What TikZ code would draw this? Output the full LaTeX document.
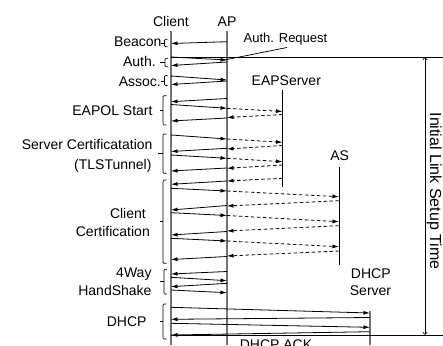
\documentclass[tikz,border=0pt]{standalone}
\usepackage{fontspec}
\setmainfont{Liberation Sans}
\usetikzlibrary{arrows.meta}
\tikzset{
  lbl/.style={inner sep=0pt, font=\fontsize{14}{16}\selectfont},
  life/.style={draw=black!55, line width=1.3pt},
  srvline/.style={draw=black, line width=0.8pt},
  msg/.style={draw=black, line width=0.8pt, -{Latex[length=6.5pt,width=4pt]}},
  dmsg/.style={msg, dash pattern=on 3.5pt off 2.5pt},
  brc/.style={draw=black, line width=0.7pt, rounded corners=1pt},
  bound/.style={draw=black, line width=0.8pt},
}
\newcommand\seqmsg[5]{\draw[#5] (#1,#2) -- (#3,#4);}
% #1 vertical x, #2 top, #3 bottom, #4 mid, #5 right tick end, #6 left tick end
\newcommand\seqbrace[6]{\draw[brc] (#5,#2) -- (#1,#2) -- (#1,#3) -- (#5,#3); \draw[brc] (#1,#4) -- (#6,#4);}
\def\xC{171}
\def\xA{227}
\def\xE{282.5}
\def\xS{339}
\def\xD{370}
\begin{document}
\begin{tikzpicture}[x=1pt,y=-1pt]
\useasboundingbox (0,0) rectangle (443,345);
\clip (0,0) rectangle (443,345);
% headers
\node[lbl, anchor=base] (hc) at (171,26.5) {Client};
\node[lbl, anchor=base] (ha) at (227,26.5) {AP};
\node[lbl, anchor=base] (he) at (286.3,85) {EAPServer};
\node[lbl, anchor=base] (hs) at (339.7,160) {AS};
\node[lbl, anchor=base] (hd1) at (370.8,278.3) {DHCP};
\node[lbl, anchor=base] (hd2) at (370.5,295) {Server};
% lifelines
\coordinate (cT) at (\xC,31); \coordinate (cB) at (\xC,345);
\coordinate (aT) at (\xA,31); \coordinate (aB) at (\xA,345);
\coordinate (eT) at (\xE,90); \coordinate (eB) at (\xE,187);
\coordinate (sT) at (\xS,166.5); \coordinate (sB) at (\xS,265);
\coordinate (dT) at (\xD,310.5); \coordinate (dB) at (\xD,345);
\draw[life] (cT) -- (cB);
\draw[life] (aT) -- (aB);
\draw[srvline] (eT) -- (eB);
\draw[srvline] (sT) -- (sB);
\draw[life] (dT) -- (dB);
% boundary lines and time arrow
\coordinate (t1) at (\xC,57); \coordinate (t2) at (443,57);
\coordinate (b1) at (\xC,335); \coordinate (b2) at (443,335);
\draw[bound] (t1) -- (t2);
\draw[bound] (b1) -- (b2);
\coordinate (v1) at (425,57); \coordinate (v2) at (425,335);
\draw[line width=0.6pt, {Straight Barb[length=2.5pt,width=4.5pt]}-{Straight Barb[length=2.5pt,width=4.5pt]}] (v1) -- (v2);
\node[lbl, font=\fontsize{16}{18}\selectfont, rotate=-90, anchor=base] (ilst) at (430,191) {Initial Link Setup Time};
% group labels
\node[lbl, anchor=base east] (lb) at (161.7,46.5) {Beacon};
\node[lbl, anchor=base east] (lau) at (156,66) {Auth.};
\node[lbl, anchor=base east] (las) at (161,86) {Assoc.};
\node[lbl, anchor=base east] (lep) at (152.7,115) {EAPOL Start};
\node[lbl, anchor=base east] (lsc1) at (152.7,149.3) {Server Certificatation};
\node[lbl, anchor=base east] (lsc2) at (151.7,169.3) {(TLSTunnel)};
\node[lbl, anchor=base east] (lcc1) at (146,218.3) {Client};
\node[lbl, anchor=base east] (lcc2) at (150,236.7) {Certification};
\node[lbl, anchor=base east] (l4w1) at (151.7,277.7) {4Way};
\node[lbl, anchor=base east] (l4w2) at (151.7,295.7) {HandShake};
\node[lbl, anchor=base east] (ldh) at (146.7,326.5) {DHCP};
% braces
\seqbrace{164.5}{39.3}{46.7}{43}{167.5}{161}
\seqbrace{165}{58.3}{66.7}{62}{168}{159.5}
\seqbrace{164.5}{75.5}{85.5}{81}{167.5}{161}
\seqbrace{163}{95.7}{125}{110}{166.5}{159.5}
\seqbrace{163}{134}{173.3}{153.3}{166.5}{158}
\seqbrace{163}{180}{263.3}{221.7}{166.5}{159.5}
\seqbrace{164}{269.3}{294}{281.7}{167}{160}
\seqbrace{163}{304}{339}{321.7}{166.5}{159.5}
% annotation
\node[lbl, font=\fontsize{13}{15}\selectfont, anchor=base] (areq) at (285.5,42) {Auth. Request};
\coordinate (ar1) at (287,47.5); \coordinate (ar2) at (222,60.5);
\draw[line width=0.7pt] (ar1) -- (ar2);
% Beacon / Auth / Assoc
\seqmsg{\xA}{41.7}{\xC}{43.5}{msg}
\seqmsg{\xC}{57}{\xA}{60}{msg}
\seqmsg{\xA}{62}{\xC}{65.5}{msg}
\seqmsg{\xC}{76}{\xA}{80}{msg}
\seqmsg{\xA}{81}{\xC}{84.5}{msg}
% EAPOL start
\seqmsg{\xA}{98.5}{\xC}{101.7}{msg}
\seqmsg{\xC}{104.5}{\xA}{108.3}{msg}
\seqmsg{\xA}{108.3}{\xE}{111.5}{dmsg}
\seqmsg{\xE}{114.5}{\xA}{117.5}{dmsg}
\seqmsg{\xA}{118}{\xC}{121}{msg}
% Server certification
\seqmsg{\xC}{135}{\xA}{139}{msg}
\seqmsg{\xA}{139}{\xE}{142.3}{dmsg}
\seqmsg{\xE}{145.5}{\xA}{149}{dmsg}
\seqmsg{\xA}{148.3}{\xC}{151.5}{msg}
\seqmsg{\xC}{155}{\xA}{158.3}{msg}
\seqmsg{\xA}{158.3}{\xE}{161.7}{dmsg}
\seqmsg{\xE}{165}{\xA}{168.3}{dmsg}
\seqmsg{\xA}{168}{\xC}{171}{msg}
% Client certification
\seqmsg{\xE}{178.3}{\xA}{181}{dmsg}
\seqmsg{\xA}{181}{\xC}{184.3}{msg}
\seqmsg{\xC}{188.3}{\xA}{191}{msg}
\seqmsg{\xA}{191}{\xS}{196.7}{dmsg}
\seqmsg{\xS}{200.7}{\xA}{206}{dmsg}
\seqmsg{\xA}{205.5}{\xC}{210}{msg}
\seqmsg{\xC}{212.7}{\xA}{215.5}{msg}
\seqmsg{\xA}{215.5}{\xS}{221.7}{dmsg}
\seqmsg{\xS}{225.7}{\xA}{231}{dmsg}
\seqmsg{\xA}{231.5}{\xC}{235}{msg}
\seqmsg{\xC}{238.3}{\xA}{241}{msg}
\seqmsg{\xA}{241}{\xS}{246.7}{dmsg}
\seqmsg{\xS}{251}{\xA}{256}{dmsg}
\seqmsg{\xA}{256.5}{\xC}{259.5}{msg}
% 4-way handshake
\seqmsg{\xA}{271.5}{\xC}{274}{msg}
\seqmsg{\xC}{277.3}{\xA}{280.7}{msg}
\seqmsg{\xA}{283.3}{\xC}{286.7}{msg}
\seqmsg{\xC}{290}{\xA}{292.7}{msg}
% DHCP
\seqmsg{\xC}{307.3}{\xD}{313}{msg}
\seqmsg{\xD}{317.5}{\xC}{319.3}{msg}
\seqmsg{\xC}{323.3}{\xD}{327.3}{msg}
\seqmsg{\xD}{331.7}{\xC}{335}{msg}
\node[lbl, anchor=base] (ack) at (276,349.3) {DHCP ACK};
\end{tikzpicture}
\end{document}
